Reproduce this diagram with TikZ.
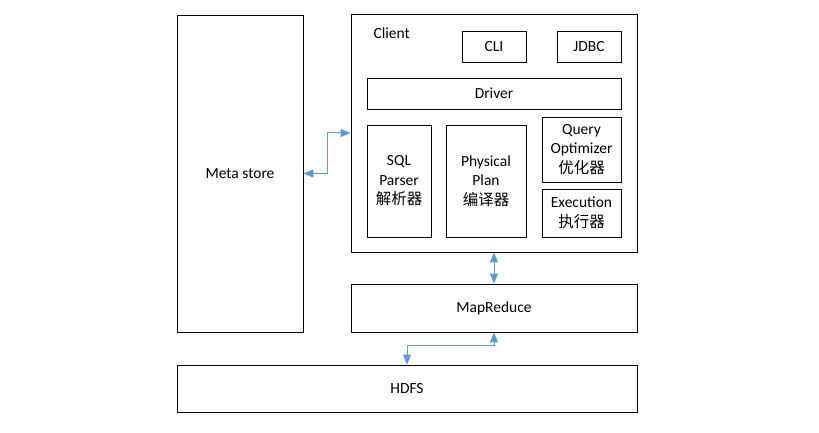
\documentclass[tikz,border=0pt]{standalone}
\usepackage{fontspec}
\setmainfont{Carlito}
\newfontfamily\cjk{Noto Sans CJK SC}
\usetikzlibrary{arrows.meta}
\definecolor{linkblue}{rgb}{0.357,0.608,0.835}

\begin{document}
\begin{tikzpicture}[
  x=1pt, y=-1pt,
  every node/.style={font=\fontsize{15.5}{19.5}\selectfont},
  box/.style={rectangle, draw=black, line width=0.9pt, inner sep=0pt, align=center},
  link/.style={{Triangle[length=10pt,width=8pt]}-{Triangle[length=10pt,width=8pt]}, draw=linkblue, line width=1pt},
]
\useasboundingbox (0,0) rectangle (819,433);

% ---- outer blocks ----
\node[box, minimum width=126, minimum height=317] (meta)   at (240, 173.5) {Meta store};
\node[box, minimum width=286, minimum height=238] (client) at (494, 133) {};
\node[box, minimum width=286, minimum height=48]  (mapred) at (494, 308) {MapReduce};
\node[box, minimum width=460, minimum height=47]  (hdfs)   at (407, 388.5) {HDFS};

% ---- inside the client ----
\node[anchor=west] (clientlbl) at (370, 33) {Client};
\node[box, minimum width=64, minimum height=31]   (cli)    at (494, 46.5) {CLI};
\node[box, minimum width=64, minimum height=31]   (jdbc)   at (589, 46.5) {JDBC};
\node[box, minimum width=254, minimum height=31]  (driver) at (494, 93.5) {Driver};
\node[box, minimum width=64, minimum height=112]  (parser) at (399, 181) {SQL\\Parser\\{\cjk 解析器}};
\node[box, minimum width=80, minimum height=112]  (plan)   at (486, 181) {Physical\\Plan\\{\cjk 编译器}};
\node[box, minimum width=79, minimum height=65]   (optim)  at (581.5, 149.5) {Query\\Optimizer\\{\cjk 优化器}};
\node[box, minimum width=79, minimum height=48]   (exec)   at (581.5, 213) {Execution\\{\cjk 执行器}};

% ---- connectors ----
\draw[link] (meta.east) -- ++(24,0) |- (client.west);
\draw[link] (client.south) -- (mapred.north);
\draw[link] (mapred.south) -- ++(0,13) -| (hdfs.north);

\end{tikzpicture}
\end{document}
